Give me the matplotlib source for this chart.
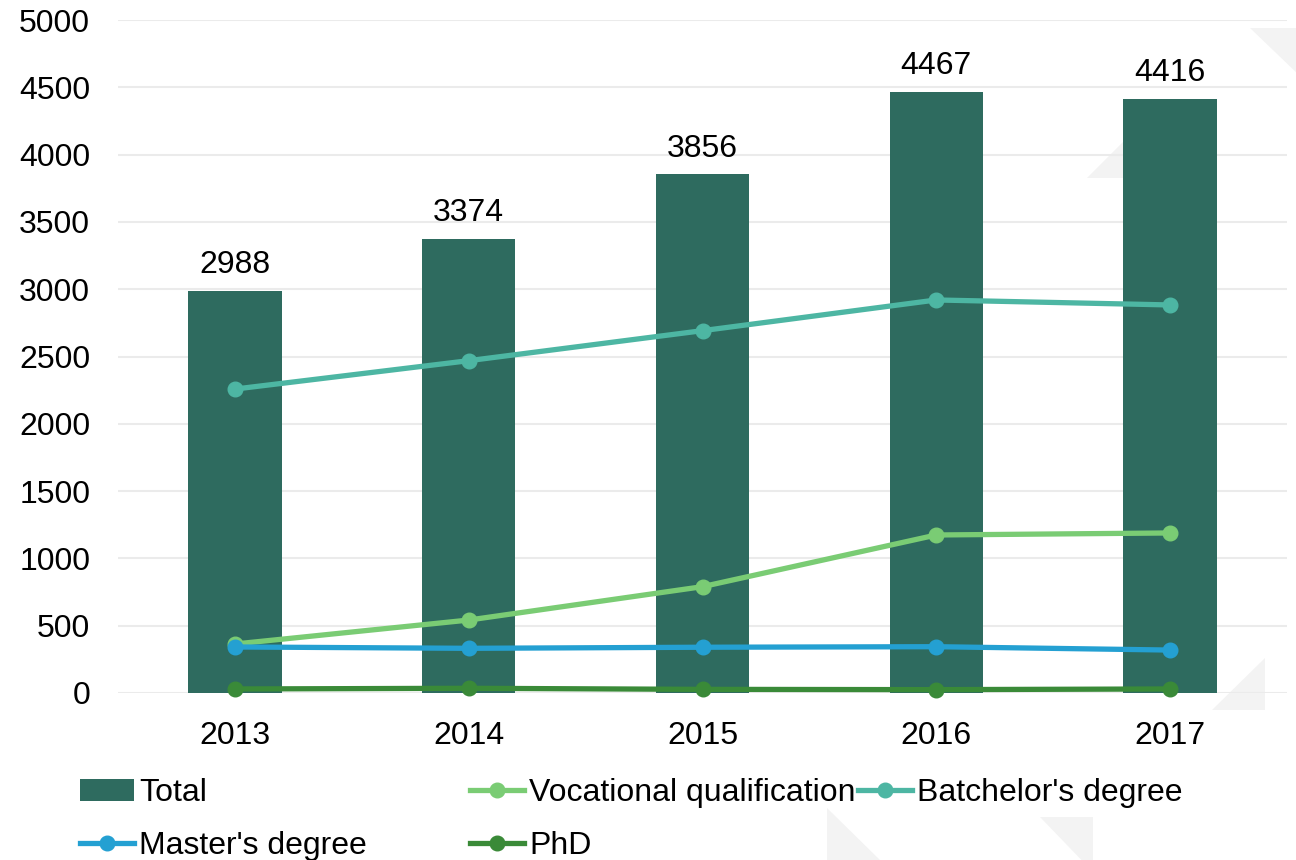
import numpy as np
import matplotlib.pyplot as plt
from matplotlib.patches import Polygon

plt.rcParams['font.family'] = ['Liberation Sans', 'DejaVu Sans']

years = ['2013', '2014', '2015', '2016', '2017']
total = [2988, 3374, 3856, 4467, 4416]
vocational = [364, 542, 790, 1174, 1189]
batchelor = [2258, 2469, 2692, 2920, 2883]
master = [342, 332, 340, 344, 319]
phd = [30, 35, 27, 25, 30]

c_total = '#2E6B5F'
c_voc = '#7ACC74'
c_bach = '#4DB6A3'
c_mast = '#24A0D2'
c_phd = '#3A8A38'

W, H = 1296, 860
fig = plt.figure(figsize=(W / 100, H / 100), dpi=100)

# faint triangles in the background (pixel coords of the picture)
tris = [
    [(1250, 28), (1300, 28), (1300, 76)],
    [(1087, 178), (1140, 178), (1140, 125)],
    [(1212, 710), (1265, 710), (1265, 658)],
    [(827, 808), (827, 862), (882, 862)],
    [(1040, 817), (1093, 817), (1093, 872)],
]
for t in tris:
    pts = [(x / W, 1 - y / H) for x, y in t]
    fig.patches.append(Polygon(pts, closed=True, transform=fig.transFigure,
                               facecolor='#F3F3F3', edgecolor='none', zorder=-5))

ax = fig.add_axes([118 / W, 1 - 693 / H, (1287 - 118) / W, (693 - 20) / H])
ax.set_facecolor('none')
ax.set_zorder(2)

x = np.arange(len(years))
bars = ax.bar(x, total, width=0.4, color=c_total, zorder=2, label='Total')
for xi, v in zip(x, total):
    ax.annotate(str(v), (xi, v), xytext=(0, 7.5), textcoords='offset points',
                ha='center', va='bottom', fontsize=23, color='black')

lw, ms = 3.8, 10.5
l_voc, = ax.plot(x, vocational, color=c_voc, lw=lw, marker='o', ms=ms, zorder=3,
                 clip_on=False, label='Vocational qualification')
l_bach, = ax.plot(x, batchelor, color=c_bach, lw=lw, marker='o', ms=ms, zorder=3,
                  clip_on=False, label="Batchelor's degree")
l_mast, = ax.plot(x, master, color=c_mast, lw=lw, marker='o', ms=ms, zorder=3,
                  clip_on=False, label="Master's degree")
l_phd, = ax.plot(x, phd, color=c_phd, lw=lw, marker='o', ms=ms, zorder=3,
                 clip_on=False, label='PhD')

ax.set_xlim(-0.5, 4.5)
ax.set_ylim(0, 5000)
ax.set_yticks(np.arange(0, 5001, 500))
ax.set_xticks(x)
ax.set_xticklabels(years)
ax.grid(axis='y', color='#EBEBEB', lw=1.5, zorder=0)
ax.set_axisbelow(True)
for s in ax.spines.values():
    s.set_visible(False)
ax.tick_params(axis='both', length=0, labelsize=23)
ax.tick_params(axis='y', pad=20)
ax.tick_params(axis='x', pad=20)

# legend entries placed one by one, like the original layout
entries = [
    (bars, 'Total', 80, 793),
    (l_voc, 'Vocational qualification', 470, 793),
    (l_bach, "Batchelor's degree", 858, 793),
    (l_mast, "Master's degree", 80, 846),
    (l_phd, 'PhD', 470, 846),
]
for h, lab, px, py in entries:
    fig.legend([h], [lab], loc='center left', bbox_to_anchor=(px / W, 1 - py / H),
               frameon=False, fontsize=23, borderpad=0, borderaxespad=0,
               handlelength=1.7, handletextpad=0.15)

fig.savefig('out.png', dpi=100)
